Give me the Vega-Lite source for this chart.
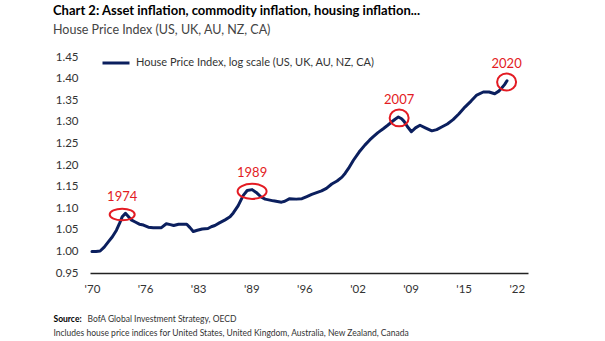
{
  "$schema": "https://vega.github.io/schema/vega-lite/v6.json",
  "width": 438,
  "height": 216,
  "autosize": {"type": "none"},
  "padding": {"left": 90, "top": 57, "right": 77, "bottom": 68},
  "background": "white",
  "config": {"view": {"stroke": null}, "font": "Lato", "axis": {"labelOverlap": false}},
  "title": {
    "text": "Chart 2: Asset inflation, commodity inflation, housing inflation...",
    "subtitle": "House Price Index (US, UK, AU, NZ, CA)",
    "anchor": "start",
    "frame": "group",
    "dx": -37,
    "offset": 12,
    "fontSize": 13,
    "fontWeight": "bold",
    "color": "#000000",
    "subtitleFontSize": 12.5,
    "subtitleColor": "#444444",
    "subtitlePadding": 6
  },
  "resolve": {"axis": {"x": "independent"}},
  "datasets": {
    "hpi": [
      {"year": 1970.0, "value": 1.000}, {"year": 1970.5, "value": 1.000}, {"year": 1971.0, "value": 1.001},
      {"year": 1971.5, "value": 1.010}, {"year": 1972.0, "value": 1.022}, {"year": 1972.5, "value": 1.034},
      {"year": 1973.0, "value": 1.049}, {"year": 1973.4, "value": 1.066}, {"year": 1973.7, "value": 1.080},
      {"year": 1974.1, "value": 1.088}, {"year": 1974.4, "value": 1.082}, {"year": 1974.8, "value": 1.073},
      {"year": 1975.3, "value": 1.068}, {"year": 1975.8, "value": 1.063}, {"year": 1976.3, "value": 1.061},
      {"year": 1976.9, "value": 1.056}, {"year": 1977.5, "value": 1.055}, {"year": 1978.5, "value": 1.055},
      {"year": 1979.1, "value": 1.064}, {"year": 1979.6, "value": 1.062}, {"year": 1980.0, "value": 1.060},
      {"year": 1980.6, "value": 1.063}, {"year": 1981.6, "value": 1.063}, {"year": 1982.0, "value": 1.055},
      {"year": 1982.4, "value": 1.046}, {"year": 1982.9, "value": 1.049}, {"year": 1983.5, "value": 1.052},
      {"year": 1984.2, "value": 1.053}, {"year": 1984.6, "value": 1.057}, {"year": 1985.05, "value": 1.060},
      {"year": 1985.6, "value": 1.066}, {"year": 1986.3, "value": 1.073}, {"year": 1986.9, "value": 1.080},
      {"year": 1987.3, "value": 1.089}, {"year": 1987.9, "value": 1.106}, {"year": 1988.5, "value": 1.129},
      {"year": 1989.0, "value": 1.141}, {"year": 1989.6, "value": 1.143}, {"year": 1990.2, "value": 1.135},
      {"year": 1990.7, "value": 1.126}, {"year": 1991.2, "value": 1.121}, {"year": 1992.2, "value": 1.117},
      {"year": 1993.2, "value": 1.114}, {"year": 1993.6, "value": 1.116}, {"year": 1994.2, "value": 1.122},
      {"year": 1995.0, "value": 1.121}, {"year": 1995.7, "value": 1.122}, {"year": 1996.3, "value": 1.127},
      {"year": 1996.9, "value": 1.132}, {"year": 1997.5, "value": 1.136}, {"year": 1998.1, "value": 1.140},
      {"year": 1998.7, "value": 1.146}, {"year": 1999.35, "value": 1.156}, {"year": 2000.0, "value": 1.163},
      {"year": 2000.6, "value": 1.172}, {"year": 2001.0, "value": 1.181}, {"year": 2001.4, "value": 1.192},
      {"year": 2002.0, "value": 1.211}, {"year": 2002.7, "value": 1.230}, {"year": 2003.4, "value": 1.246},
      {"year": 2004.0, "value": 1.258}, {"year": 2004.4, "value": 1.265}, {"year": 2005.0, "value": 1.275},
      {"year": 2005.65, "value": 1.284}, {"year": 2006.2, "value": 1.292}, {"year": 2006.7, "value": 1.300},
      {"year": 2007.1, "value": 1.306}, {"year": 2007.5, "value": 1.311}, {"year": 2007.9, "value": 1.307},
      {"year": 2008.2, "value": 1.301}, {"year": 2008.6, "value": 1.289}, {"year": 2009.1, "value": 1.277},
      {"year": 2009.6, "value": 1.286}, {"year": 2010.15, "value": 1.292}, {"year": 2010.8, "value": 1.286},
      {"year": 2011.6, "value": 1.279}, {"year": 2012.2, "value": 1.282}, {"year": 2012.8, "value": 1.288},
      {"year": 2013.5, "value": 1.295}, {"year": 2014.2, "value": 1.305}, {"year": 2014.9, "value": 1.318},
      {"year": 2015.65, "value": 1.334}, {"year": 2016.4, "value": 1.348}, {"year": 2017.1, "value": 1.362},
      {"year": 2017.9, "value": 1.369}, {"year": 2018.6, "value": 1.369}, {"year": 2019.3, "value": 1.365},
      {"year": 2019.8, "value": 1.371}, {"year": 2020.1, "value": 1.377}, {"year": 2020.5, "value": 1.386},
      {"year": 2020.8, "value": 1.395}
    ],
    "notes": [
      {"label": "1974", "year": 1973.7, "value": 1.0854},
      {"label": "1989", "year": 1989.6, "value": 1.139},
      {"label": "2007", "year": 2007.6, "value": 1.309},
      {"label": "2020", "year": 2020.75, "value": 1.392}
    ]
  },
  "layer": [
    {
      "data": {"name": "hpi"},
      "mark": {"type": "line", "strokeWidth": 3, "strokeJoin": "round", "strokeCap": "round"},
      "encoding": {
        "x": {
          "field": "year", "type": "quantitative",
          "scale": {"domain": [1969.76, 2023.37], "nice": false, "zero": false},
          "axis": {
            "values": [1970, 1976.5, 1983, 1989.5, 1996, 2002.5, 2009, 2015.5, 2022],
            "labelExpr": "\"'\" + slice(toString(floor(datum.value)), 2)",
            "labelOverlap": false,
            "domain": true, "domainColor": "#222222", "domainWidth": 1.3,
            "ticks": false, "grid": false,
            "labelFontSize": 11.5, "labelColor": "#333333", "labelPadding": 10,
            "title": "BofA Global Investment Strategy, OECD",
            "titleAnchor": "start", "titleAlign": "left", "titleAngle": 0,
            "titleX": -3, "titleY": 45.7, "titleBaseline": "middle",
            "titleFontSize": 8.5, "titleFontWeight": "normal", "titleColor": "#333333"
          }
        },
        "y": {
          "field": "value", "type": "quantitative",
          "scale": {"domain": [0.95, 1.45], "nice": false, "zero": false},
          "axis": {
            "tickCount": 10,
            "format": ".2f",
            "labelOverlap": false,
            "labelFlush": false,
            "domain": false, "ticks": false, "grid": false,
            "labelFontSize": 11.5, "labelColor": "#333333", "labelPadding": 12,
            "title": "Source:",
            "titleAngle": 0, "titleAlign": "left", "titleBaseline": "middle",
            "titleX": -37, "titleY": 261.5,
            "titleFontSize": 8.5, "titleFontWeight": "bold", "titleColor": "#000000"
          }
        },
        "color": {
          "datum": "House Price Index, log scale (US, UK, AU, NZ, CA)",
          "scale": {"range": ["#0b1f5e"]},
          "legend": {
            "title": null, "orient": "none", "legendX": 11, "legendY": -9,
            "symbolType": "stroke", "symbolSize": 729, "symbolStrokeWidth": 3,
            "labelFontSize": 11, "labelColor": "#333333", "labelOffset": 5, "labelLimit": 500, "padding": 0
          }
        }
      }
    },
    {
      "data": {"name": "notes"},
      "transform": [{"filter": "datum.label == '1974'"}],
      "mark": {"type": "point", "shape": "M-1,0A1,0.46,0,1,1,1,0A1,0.46,0,1,1,-1,0Z", "size": 625, "filled": false, "stroke": "#e31b23", "strokeWidth": 2, "opacity": 1},
      "encoding": {"x": {"field": "year", "type": "quantitative", "axis": null}, "y": {"field": "value", "type": "quantitative"}}
    },
    {
      "data": {"name": "notes"},
      "transform": [{"filter": "datum.label == '1989'"}],
      "mark": {"type": "point", "shape": "M-1,0A1,0.52,0,1,1,1,0A1,0.52,0,1,1,-1,0Z", "size": 841, "filled": false, "stroke": "#e31b23", "strokeWidth": 2, "opacity": 1},
      "encoding": {"x": {"field": "year", "type": "quantitative", "axis": null}, "y": {"field": "value", "type": "quantitative"}}
    },
    {
      "data": {"name": "notes"},
      "transform": [{"filter": "datum.label == '2007' || datum.label == '2020'"}],
      "mark": {"type": "point", "shape": "M-1,0A1,0.89,0,1,1,1,0A1,0.89,0,1,1,-1,0Z", "size": 361, "filled": false, "stroke": "#e31b23", "strokeWidth": 2, "opacity": 1},
      "encoding": {"x": {"field": "year", "type": "quantitative", "axis": null}, "y": {"field": "value", "type": "quantitative"}}
    },
    {
      "data": {"name": "notes"},
      "mark": {"type": "text", "dy": -18, "fontSize": 13, "color": "#e31b23", "baseline": "middle", "align": "center"},
      "encoding": {
        "x": {
          "field": "year", "type": "quantitative",
          "axis": {
            "orient": "top", "domain": false, "ticks": false, "labels": false, "grid": false,
            "title": "Includes  house  price indices  for United States, United Kingdom,  Australia, New Zealand, Canada",
            "titleAnchor": "start", "titleAlign": "left", "titleAngle": 0,
            "titleX": -37, "titleY": 275, "titleBaseline": "middle",
            "titleFontSize": 8.5, "titleFontWeight": "normal", "titleColor": "#333333"
          }
        },
        "y": {"field": "value", "type": "quantitative"},
        "text": {"field": "label"}
      }
    }
  ]
}
